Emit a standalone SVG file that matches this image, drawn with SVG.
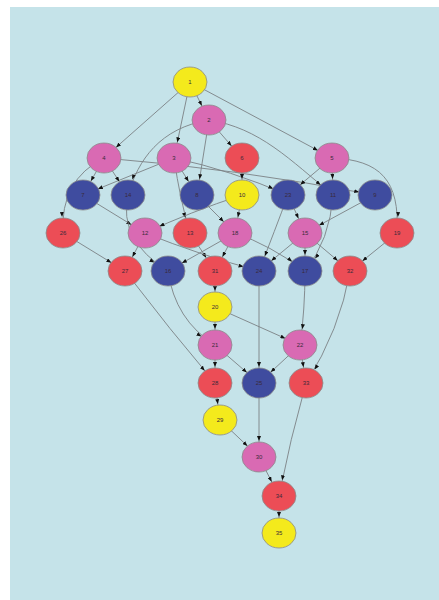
<svg xmlns="http://www.w3.org/2000/svg" width="439" height="600" viewBox="0 0 439 600">
<defs>
<marker id="ah" markerUnits="userSpaceOnUse" viewBox="0 0 5 4" refX="21" refY="2" markerWidth="5" markerHeight="4" orient="auto">
<path d="M0,0 L5,2 L0,4 z" fill="#111"/>
</marker>
<style>
.e{fill:none;stroke:#7c8184;stroke-width:0.9;marker-end:url(#ah)}
.n ellipse{stroke:#8a8a8a;stroke-width:0.8}
.y{fill:#f4ea1c}.p{fill:#d96ab3}.r{fill:#ec4d56}.b{fill:#3f4c9f}
text{font-family:"Liberation Sans",Arial,sans-serif;font-size:6px;fill:#3a2a3a;text-anchor:middle;dominant-baseline:central}
</style>
</defs>
<rect x="0" y="0" width="439" height="600" fill="#ffffff"/>
<rect x="10" y="7" width="429" height="593" fill="#c5e3e9"/>
<g id="edges">
<path class="e" d="M190,82 L209,120"/>
<path class="e" d="M190,82 L174,158"/>
<path class="e" d="M190,82 L104,158"/>
<path class="e" d="M190,82 L332,158"/>
<path class="e" d="M209,120 L242,158"/>
<path class="e" d="M209,120 L197,195"/>
<path class="e" d="M209,120 C160,128 138,160 128,195"/>
<path class="e" d="M209,120 C260,128 290,160 333,195"/>
<path class="e" d="M174,158 L83,195"/>
<path class="e" d="M174,158 L197,195"/>
<path class="e" d="M174,158 Q230,170 288,195"/>
<path class="e" d="M174,158 Q180,200 190,233"/>
<path class="e" d="M104,158 L83,195"/>
<path class="e" d="M104,158 L128,195"/>
<path class="e" d="M104,158 Q60,180 63,233"/>
<path class="e" d="M104,158 Q230,168 375,195"/>
<path class="e" d="M242,158 L242,195"/>
<path class="e" d="M332,158 L288,195"/>
<path class="e" d="M332,158 L333,195"/>
<path class="e" d="M332,158 C380,160 400,180 397,233"/>
<path class="e" d="M83,195 L145,233"/>
<path class="e" d="M242,195 Q190,212 145,233"/>
<path class="e" d="M197,195 L235,233"/>
<path class="e" d="M242,195 L235,233"/>
<path class="e" d="M288,195 L305,233"/>
<path class="e" d="M375,195 L305,233"/>
<path class="e" d="M63,233 L125,271"/>
<path class="e" d="M145,233 L125,271"/>
<path class="e" d="M128,195 Q118,240 168,271"/>
<path class="e" d="M235,233 L168,271"/>
<path class="e" d="M190,233 L215,271"/>
<path class="e" d="M235,233 L215,271"/>
<path class="e" d="M145,233 Q200,255 259,271"/>
<path class="e" d="M288,195 Q275,230 259,271"/>
<path class="e" d="M305,233 L259,271"/>
<path class="e" d="M235,233 Q270,245 305,271"/>
<path class="e" d="M305,233 L305,271"/>
<path class="e" d="M333,195 Q330,240 305,271"/>
<path class="e" d="M305,233 L350,271"/>
<path class="e" d="M397,233 L350,271"/>
<path class="e" d="M215,271 L215,307"/>
<path class="e" d="M125,271 Q170,330 215,383"/>
<path class="e" d="M168,271 Q175,320 215,345"/>
<path class="e" d="M215,307 L215,345"/>
<path class="e" d="M215,307 L300,345"/>
<path class="e" d="M305,271 Q305,310 300,345"/>
<path class="e" d="M259,271 L259,383"/>
<path class="e" d="M215,345 L215,383"/>
<path class="e" d="M215,345 L259,383"/>
<path class="e" d="M300,345 L259,383"/>
<path class="e" d="M300,345 L306,383"/>
<path class="e" d="M350,271 Q340,330 306,383"/>
<path class="e" d="M215,383 L220,420"/>
<path class="e" d="M220,420 L259,457"/>
<path class="e" d="M259,383 L259,457"/>
<path class="e" d="M306,383 Q290,440 279,496"/>
<path class="e" d="M259,457 L279,496"/>
<path class="e" d="M279,496 L279,533"/>
</g>
<g id="n1" class="n"><ellipse class="y" cx="190" cy="82" rx="17" ry="15"/><text x="190" y="82">1</text></g>
<g id="n2" class="n"><ellipse class="p" cx="209" cy="120" rx="17" ry="15"/><text x="209" y="120">2</text></g>
<g id="n4" class="n"><ellipse class="p" cx="104" cy="158" rx="17" ry="15"/><text x="104" y="158">4</text></g>
<g id="n3" class="n"><ellipse class="p" cx="174" cy="158" rx="17" ry="15"/><text x="174" y="158">3</text></g>
<g id="n6" class="n"><ellipse class="r" cx="242" cy="158" rx="17" ry="15"/><text x="242" y="158">6</text></g>
<g id="n5" class="n"><ellipse class="p" cx="332" cy="158" rx="17" ry="15"/><text x="332" y="158">5</text></g>
<g id="n7" class="n"><ellipse class="b" cx="83" cy="195" rx="17" ry="15"/><text x="83" y="195">7</text></g>
<g id="n14" class="n"><ellipse class="b" cx="128" cy="195" rx="17" ry="15"/><text x="128" y="195">14</text></g>
<g id="n8" class="n"><ellipse class="b" cx="197" cy="195" rx="17" ry="15"/><text x="197" y="195">8</text></g>
<g id="n10" class="n"><ellipse class="y" cx="242" cy="195" rx="17" ry="15"/><text x="242" y="195">10</text></g>
<g id="n23" class="n"><ellipse class="b" cx="288" cy="195" rx="17" ry="15"/><text x="288" y="195">23</text></g>
<g id="n11" class="n"><ellipse class="b" cx="333" cy="195" rx="17" ry="15"/><text x="333" y="195">11</text></g>
<g id="n9" class="n"><ellipse class="b" cx="375" cy="195" rx="17" ry="15"/><text x="375" y="195">9</text></g>
<g id="n26" class="n"><ellipse class="r" cx="63" cy="233" rx="17" ry="15"/><text x="63" y="233">26</text></g>
<g id="n12" class="n"><ellipse class="p" cx="145" cy="233" rx="17" ry="15"/><text x="145" y="233">12</text></g>
<g id="n13" class="n"><ellipse class="r" cx="190" cy="233" rx="17" ry="15"/><text x="190" y="233">13</text></g>
<g id="n18" class="n"><ellipse class="p" cx="235" cy="233" rx="17" ry="15"/><text x="235" y="233">18</text></g>
<g id="n15" class="n"><ellipse class="p" cx="305" cy="233" rx="17" ry="15"/><text x="305" y="233">15</text></g>
<g id="n19" class="n"><ellipse class="r" cx="397" cy="233" rx="17" ry="15"/><text x="397" y="233">19</text></g>
<g id="n27" class="n"><ellipse class="r" cx="125" cy="271" rx="17" ry="15"/><text x="125" y="271">27</text></g>
<g id="n16" class="n"><ellipse class="b" cx="168" cy="271" rx="17" ry="15"/><text x="168" y="271">16</text></g>
<g id="n31" class="n"><ellipse class="r" cx="215" cy="271" rx="17" ry="15"/><text x="215" y="271">31</text></g>
<g id="n24" class="n"><ellipse class="b" cx="259" cy="271" rx="17" ry="15"/><text x="259" y="271">24</text></g>
<g id="n17" class="n"><ellipse class="b" cx="305" cy="271" rx="17" ry="15"/><text x="305" y="271">17</text></g>
<g id="n32" class="n"><ellipse class="r" cx="350" cy="271" rx="17" ry="15"/><text x="350" y="271">32</text></g>
<g id="n20" class="n"><ellipse class="y" cx="215" cy="307" rx="17" ry="15"/><text x="215" y="307">20</text></g>
<g id="n21" class="n"><ellipse class="p" cx="215" cy="345" rx="17" ry="15"/><text x="215" y="345">21</text></g>
<g id="n22" class="n"><ellipse class="p" cx="300" cy="345" rx="17" ry="15"/><text x="300" y="345">22</text></g>
<g id="n28" class="n"><ellipse class="r" cx="215" cy="383" rx="17" ry="15"/><text x="215" y="383">28</text></g>
<g id="n25" class="n"><ellipse class="b" cx="259" cy="383" rx="17" ry="15"/><text x="259" y="383">25</text></g>
<g id="n33" class="n"><ellipse class="r" cx="306" cy="383" rx="17" ry="15"/><text x="306" y="383">33</text></g>
<g id="n29" class="n"><ellipse class="y" cx="220" cy="420" rx="17" ry="15"/><text x="220" y="420">29</text></g>
<g id="n30" class="n"><ellipse class="p" cx="259" cy="457" rx="17" ry="15"/><text x="259" y="457">30</text></g>
<g id="n34" class="n"><ellipse class="r" cx="279" cy="496" rx="17" ry="15"/><text x="279" y="496">34</text></g>
<g id="n35" class="n"><ellipse class="y" cx="279" cy="533" rx="17" ry="15"/><text x="279" y="533">35</text></g>
</svg>
